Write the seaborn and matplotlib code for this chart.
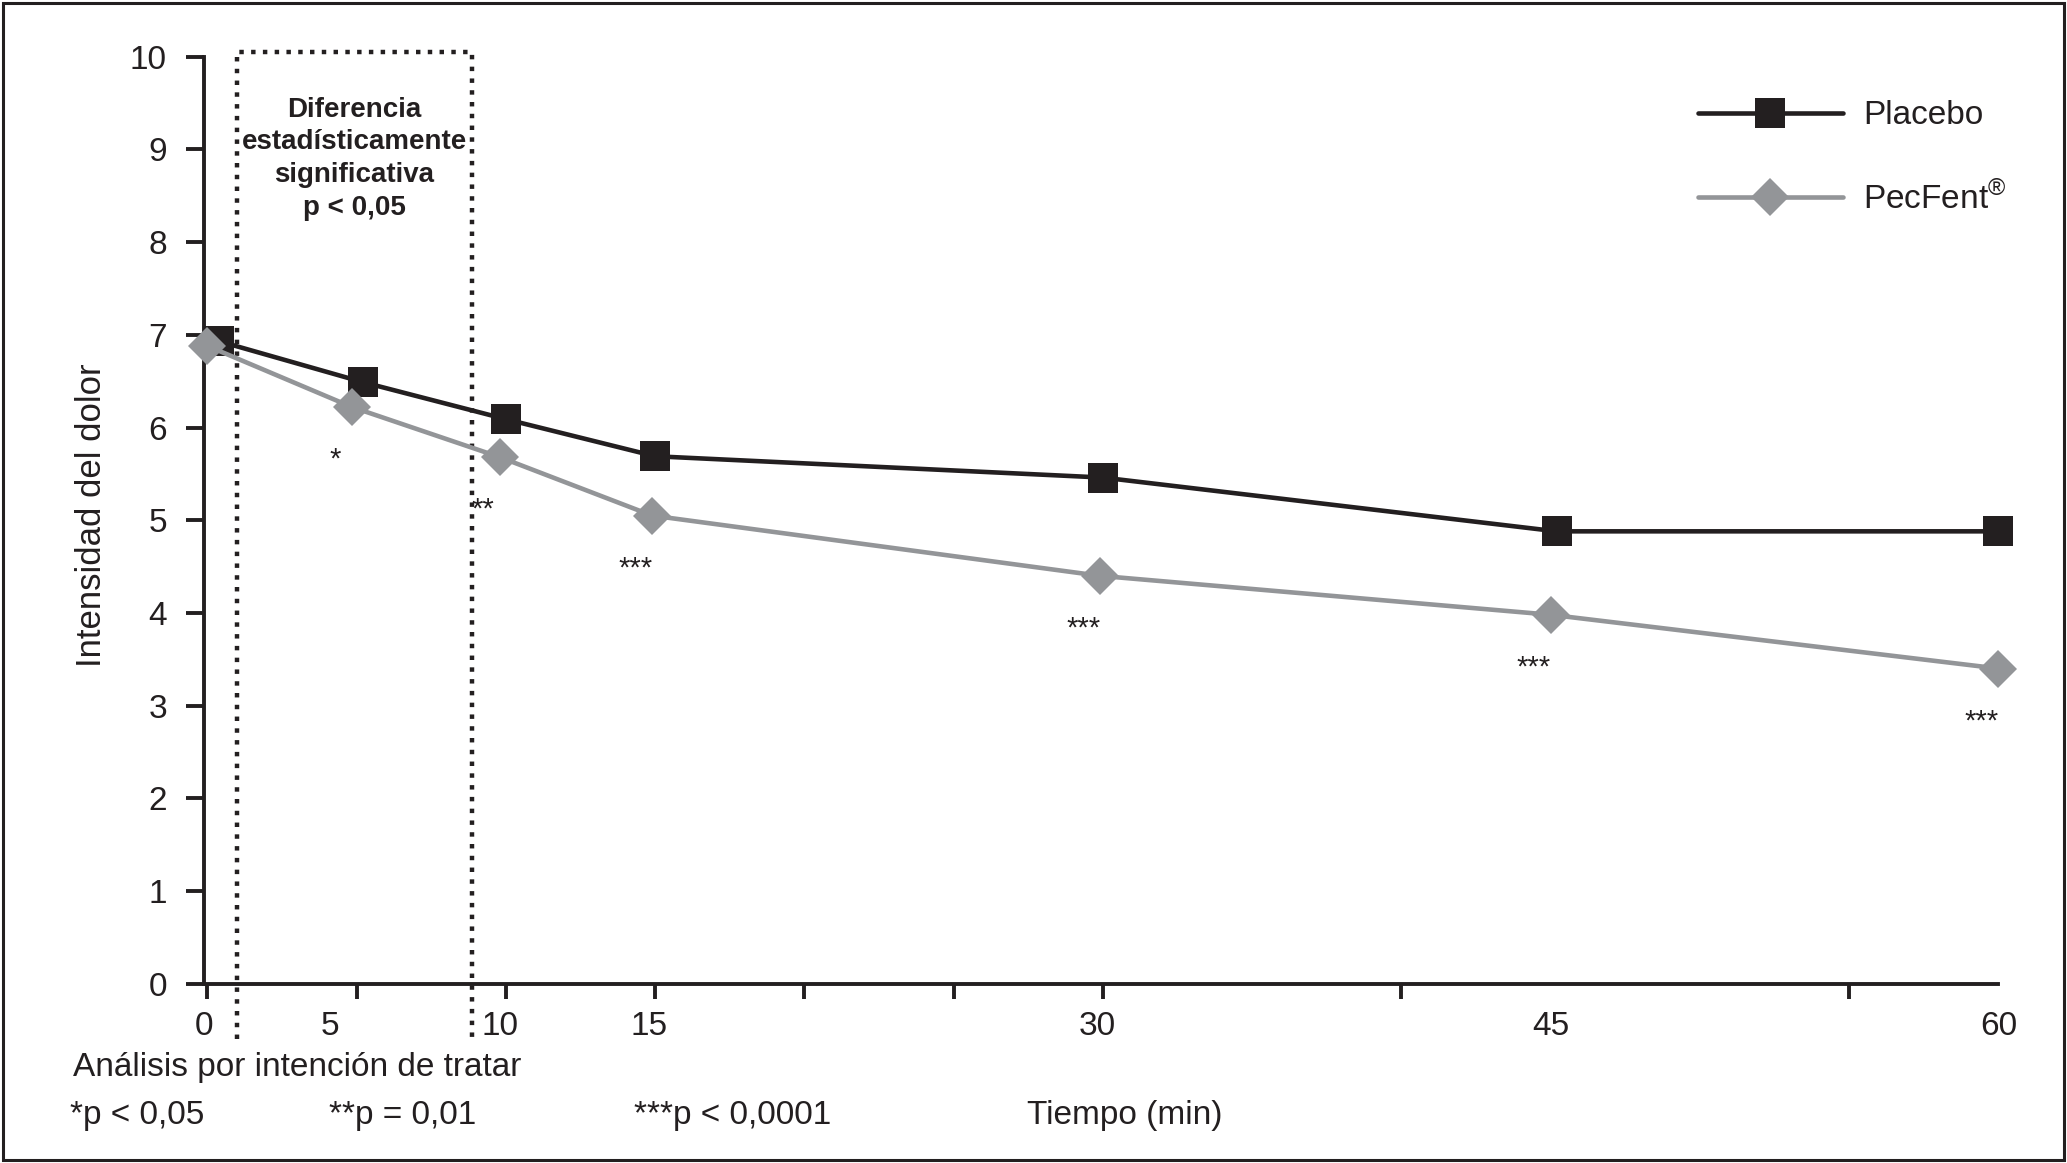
"""
Intensidad del dolor: Placebo vs PecFent
"""

import pandas as pd
import matplotlib
matplotlib.use("Agg")
import matplotlib.pyplot as plt
import seaborn as sns
from matplotlib.patches import Rectangle
from matplotlib.lines import Line2D

# values
time_labels = [0, 5, 10, 15, 30, 45, 60]
placebo_time = [0.4, 5.2, 10, 15, 30, 45.2, 60]
placebo_pain = [6.93, 6.49, 6.09, 5.69, 5.46, 4.88, 4.88]
pecfent_time = [0, 4.85, 9.8, 14.9, 29.9, 45, 60]
pecfent_pain = [6.88, 6.22, 5.68, 5.05, 4.40, 3.98, 3.40]
significance = ["", "*", "**", "***", "***", "***", "***"]
tick_marks = [0, 5, 10, 15, 20, 25, 30, 40, 45, 55, 60]
label_pos = [-0.1, 4.1, 9.8, 14.8, 29.8, 45, 60]
sig_window = (1.0, 8.85)

BLACK = "#231f20"
GREY = "#939598"
FONT = ["Liberation Sans", "DejaVu Sans"]

sns.set_style("white")
plt.rcParams["font.family"] = FONT
plt.rcParams["text.color"] = BLACK

fig = plt.figure(figsize=(20.67, 11.63), dpi=100)
ax = fig.add_axes([0.0989, 0.1542, 0.8679, 0.7970])

placebo = pd.DataFrame({"Tiempo": placebo_time, "Dolor": placebo_pain})
pecfent = pd.DataFrame({"Tiempo": pecfent_time, "Dolor": pecfent_pain})

sns.lineplot(data=placebo, x="Tiempo", y="Dolor", ax=ax, color=BLACK,
             linewidth=3.3, marker="s", markersize=21, markeredgewidth=0,
             clip_on=False, zorder=3)
sns.lineplot(data=pecfent, x="Tiempo", y="Dolor", ax=ax, color=GREY,
             linewidth=3.3, marker="D", markersize=19, markeredgewidth=0,
             clip_on=False, zorder=4)

# significance stars under PecFent points
for t, v, s in zip(pecfent_time, pecfent_pain, significance):
    if s:
        ax.annotate(s, (t, v), xytext=(-12, -38), textcoords="offset points",
                    ha="center", va="center", fontsize=21, color=BLACK)

# dotted window of significant difference
x0, x1 = sig_window
ax.plot([x0, x0, x1, x1], [-0.6, 10.05, 10.05, -0.6], ls=":", lw=3.2,
        color=BLACK, clip_on=False, zorder=2)
ax.text((x0 + x1) / 2, 8.9,
        "Diferencia\nestadísticamente\nsignificativa\np < 0,05",
        ha="center", va="center", fontsize=20, fontweight="bold",
        linespacing=1.33)

ax.set_xlim(0, 60)
ax.set_ylim(0, 10)
ax.set_xlabel("")
ax.set_ylabel("")
sns.despine(ax=ax)
for side in ["left", "bottom"]:
    ax.spines[side].set_linewidth(2.8)
    ax.spines[side].set_color(BLACK)

ax.set_yticks(range(11))
ax.tick_params(axis="y", left=True, length=13, width=2.8, pad=14,
               labelsize=24, color=BLACK, labelcolor=BLACK)
ax.set_xticks(label_pos)
ax.set_xticklabels([str(t) for t in time_labels])
ax.set_xticks(tick_marks, minor=True)
ax.tick_params(axis="x", which="major", bottom=True, length=0, pad=20,
               labelsize=24, labelcolor=BLACK)
ax.tick_params(axis="x", which="minor", bottom=True, length=11, width=2.8,
               color=BLACK)

handles = [
    Line2D([], [], color=BLACK, lw=3.3, marker="s", ms=21, mew=0),
    Line2D([], [], color=GREY, lw=3.3, marker="D", ms=19, mew=0),
]
fig.legend(handles, ["Placebo", "PecFent$^{\\mathregular{®}}$"],
           loc="upper left", bbox_to_anchor=(0.8214, 0.9138), frameon=False,
           fontsize=24, handlelength=4.35, handletextpad=0.6,
           labelspacing=1.5, borderpad=0, borderaxespad=0)

fig.text(0.0445, 0.5567, "Intensidad del dolor", rotation=90,
         ha="center", va="center", fontsize=25)

fig.text(0.0351, 0.0825, "Análisis por intención de tratar", ha="left",
         va="center", fontsize=24)
fig.text(0.0338, 0.0412, "*p < 0,05", ha="left", va="center", fontsize=24)
fig.text(0.1594, 0.0412, "**p = 0,01", ha="left", va="center", fontsize=24)
fig.text(0.3068, 0.0412, "***p < 0,0001", ha="left", va="center",
         fontsize=24)
fig.text(0.4968, 0.0412, "Tiempo (min)", ha="left", va="center",
         fontsize=24)

fig.add_artist(Rectangle((0.0015, 0.0025), 0.997, 0.995,
                         transform=fig.transFigure, fill=False, lw=2.2,
                         ec=BLACK))

fig.savefig("out.png", dpi=100)
